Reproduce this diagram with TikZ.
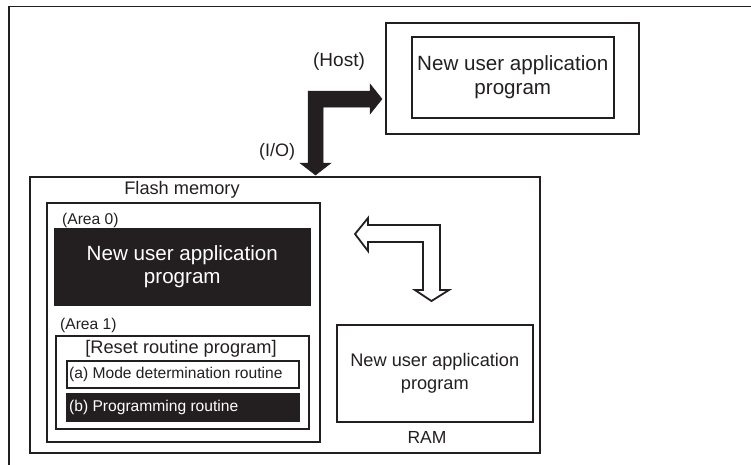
\documentclass[tikz,border=0pt]{standalone}
\usepackage{fontspec}
\setmainfont{Liberation Sans}
\definecolor{ink}{RGB}{35,31,32}
\begin{document}
\begin{tikzpicture}[x=1pt,y=-1pt,
  box/.style={draw=ink, line width=1.6pt, inner sep=0pt, anchor=north west, align=center, text=ink},
  darkbox/.style={box, fill=ink, text=white},
  lbl/.style={inner sep=0pt, text=ink},
  bigtxt/.style={font=\fontsize{20.6}{23.5}\selectfont},
  midtxt/.style={font=\fontsize{18.2}{23}\selectfont},
  smalltxt/.style={font=\fontsize{15.6}{18}\selectfont},
  blockarrow/.style={fill=ink, draw=ink, line width=0.5pt, line join=miter},
  hollowarrow/.style={fill=white, draw=ink, line width=1.8pt, line join=miter}
]
\useasboundingbox (0,0) rectangle (751,464);
\begin{scope}
  \clip (0,0) rectangle (751,464);
  \draw[ink, line width=1.8pt] (9,6.5) rectangle (800,520);
\end{scope}

% Host
\node[box, minimum width=253pt, minimum height=111pt] (hostout) at (385,22) {};
\node[box, bigtxt, minimum width=202pt, minimum height=81pt] (hostin) at (411,36) {New user application\\program};
\node[lbl, font=\fontsize{19}{22}\selectfont] (host) at (339,62) {(Host)};
\node[lbl, font=\fontsize{18}{22}\selectfont] (io) at (277,152) {(I/O)};

% Flash / main block
\node[box, minimum width=510pt, minimum height=276pt] (main) at (29,176) {};
\node[lbl, midtxt] (flashlbl) at (182,190) {Flash memory};
\node[box, minimum width=273pt, minimum height=239pt] (flash) at (46,202) {};
\node[lbl, smalltxt, anchor=west] (a0) at (62,220) {(Area 0)};
\node[darkbox, bigtxt, minimum width=255pt, minimum height=76pt] (area0) at (54,228) {New user application\\program};
\node[lbl, smalltxt, anchor=west] (a1) at (60,325) {(Area 1)};
\node[box, minimum width=253pt, minimum height=93pt] (area1) at (55,335) {};
\node[lbl, midtxt] (reset) at (181,349) {[Reset routine program]};
\node[box, minimum width=232pt, minimum height=27pt] (moda) at (66,360) {};
\node[lbl, smalltxt, anchor=west] (modatxt) at (69,374) {(a) Mode determination routine};
\node[darkbox, minimum width=232pt, minimum height=27pt] (progb) at (66,393) {};
\node[lbl, smalltxt, anchor=west, text=white] (progbtxt) at (69,407) {(b) Programming routine};

% RAM
\node[box, midtxt, minimum width=196pt, minimum height=97pt] (ram) at (336,324) {New user application\\program};
\node[lbl, font=\fontsize{17.5}{20}\selectfont] (ramlbl) at (427,437) {RAM};

% black block arrow (host <-> flash)
\draw[blockarrow] (308,163) -- (308,91) -- (370,91) -- (370,84) -- (382,99) -- (370,114)
  -- (370,107) -- (323,107) -- (323,163) -- (331,163) -- (315.5,175) -- (300,163) -- cycle;

% hollow block arrow (flash <-> RAM)
\draw[hollowarrow] (368,218) -- (355,234) -- (368,251) -- (368,242) -- (423,242) -- (423,290)
  -- (415,290) -- (431.5,301) -- (449,290) -- (440,290) -- (440,225) -- (368,225) -- cycle;
\end{tikzpicture}
\end{document}
